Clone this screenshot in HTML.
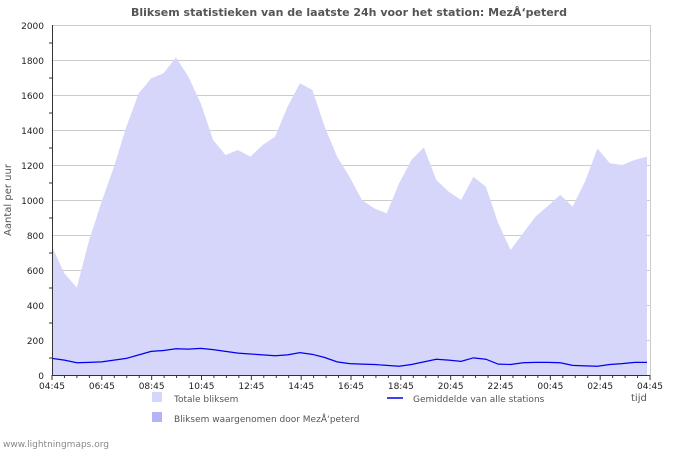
<!DOCTYPE html>
<html><head><meta charset="utf-8"><style>
body{margin:0;background:#fff;font-family:"DejaVu Sans","Liberation Sans",sans-serif}
</style></head><body>
<svg id="c" width="700" height="450" xmlns="http://www.w3.org/2000/svg" font-family="DejaVu Sans, Liberation Sans, sans-serif">
<text x="349" y="16" text-anchor="middle" font-size="11" font-weight="bold" fill="#555">Bliksem statistieken van de laatste 24h voor het station: MezÅ‘peterd</text>
<g id="grid"></g>
<g id="series"></g>
<g id="axes"></g>
<text transform="translate(11,200) rotate(-90)" text-anchor="middle" font-size="10" fill="#555">Aantal per uur</text>
<text x="631" y="401" font-size="10" fill="#555">tijd</text>
<g>
<rect x="152" y="392" width="10" height="10" fill="#d6d6fb"/>
<text x="174" y="402" font-size="9" fill="#555">Totale bliksem</text>
<rect x="152" y="412" width="10" height="10" fill="#b3b3f5"/>
<text x="174" y="422" font-size="9" fill="#555">Bliksem waargenomen door MezÅ‘peterd</text>
<line x1="387" y1="398" x2="403" y2="398" stroke="#0000ee" stroke-width="1.5"/>
<text x="413" y="402" font-size="9" fill="#555">Gemiddelde van alle stations</text>
</g>
<text x="3" y="447" font-size="9" fill="#888">www.lightningmaps.org</text>
</svg>
<script>
const totals=[733,581,500,771,990,1190,1419,1610,1695,1724,1815,1705,1552,1343,1257,1286,1248,1314,1362,1533,1667,1629,1419,1248,1133,1000,952,924,1095,1229,1300,1114,1048,1000,1133,1076,867,714,810,905,966,1029,962,1105,1295,1210,1200,1229,1248];
const averages=[95,85,70,72,75,85,95,115,135,140,150,148,152,145,135,125,120,115,110,115,128,118,100,75,65,62,60,55,50,60,75,90,85,78,98,90,62,60,70,72,72,70,55,52,50,60,65,72,72];
const yTicks=[0,200,400,600,800,1000,1200,1400,1600,1800,2000];
const xLabels=["04:45","06:45","08:45","10:45","12:45","14:45","16:45","18:45","20:45","22:45","00:45","02:45","04:45"];
const X0=52,X1=650,Y0=375,Y1=25,YMAX=2000;
const NS="http://www.w3.org/2000/svg";
const N=totals.length;
const xs=i=>X0+(X1-3-X0)*i/(N-1);
const ys=v=>Y0-(Y0-Y1)*v/YMAX;
function mk(tag,attrs,parent){const e=document.createElementNS(NS,tag);for(const k in attrs)e.setAttribute(k,attrs[k]);parent.appendChild(e);return e;}
const grid=document.getElementById('grid'),ser=document.getElementById('series'),ax=document.getElementById('axes');
yTicks.forEach(v=>{
 const l=mk('line',{x1:X0,x2:X1,y1:ys(v)+0.5,y2:ys(v)+0.5,stroke:'#cccccc'},grid);
 
 
 const t=mk('text',{x:X0-8,y:ys(v)+4,'text-anchor':'end','font-size':9,fill:'#222'},ax);
 t.textContent=v;
 
 
});
for(let v=100;v<YMAX;v+=200){mk('line',{x1:X0-3,x2:X0,y1:ys(v)+0.5,y2:ys(v)+0.5,stroke:'#333'},ax);}
mk('line',{x1:X1+0.5,x2:X1+0.5,y1:Y1,y2:Y0,stroke:'#cccccc'},grid);
let d='M'+xs(0)+','+Y0;
totals.forEach((v,i)=>{d+=' L'+xs(i)+','+ys(v);});
d+=' L'+xs(N-1)+','+Y0+' Z';
const area=mk('path',{d:d,fill:'#d6d6fb'},ser);


const pl=mk('polyline',{points:averages.map((v,i)=>xs(i)+','+ys(v)).join(' '),fill:'none',stroke:'#0000ee','stroke-width':1.2},ser);


mk('line',{x1:X0+0.5,x2:X0+0.5,y1:Y1,y2:Y0+1,stroke:'#333'},ax);
mk('line',{x1:X0,x2:X1,y1:Y0+0.5,y2:Y0+0.5,stroke:'#333'},ax);
const step=(X1-X0)/48;
for(let i=0;i<=48;i++){const x=X0+step*i;mk('line',{x1:x,x2:x,y1:Y0,y2:Y0+(i%4==0?5:3),stroke:'#333'},ax);}
xLabels.forEach((s,i)=>{
 const t=mk('text',{x:X0+(X1-X0)*i/(xLabels.length-1),y:Y0+14,'text-anchor':'middle','font-size':9,fill:'#222'},ax);
 t.textContent=s;
 
 
});
</script>
</body></html>
